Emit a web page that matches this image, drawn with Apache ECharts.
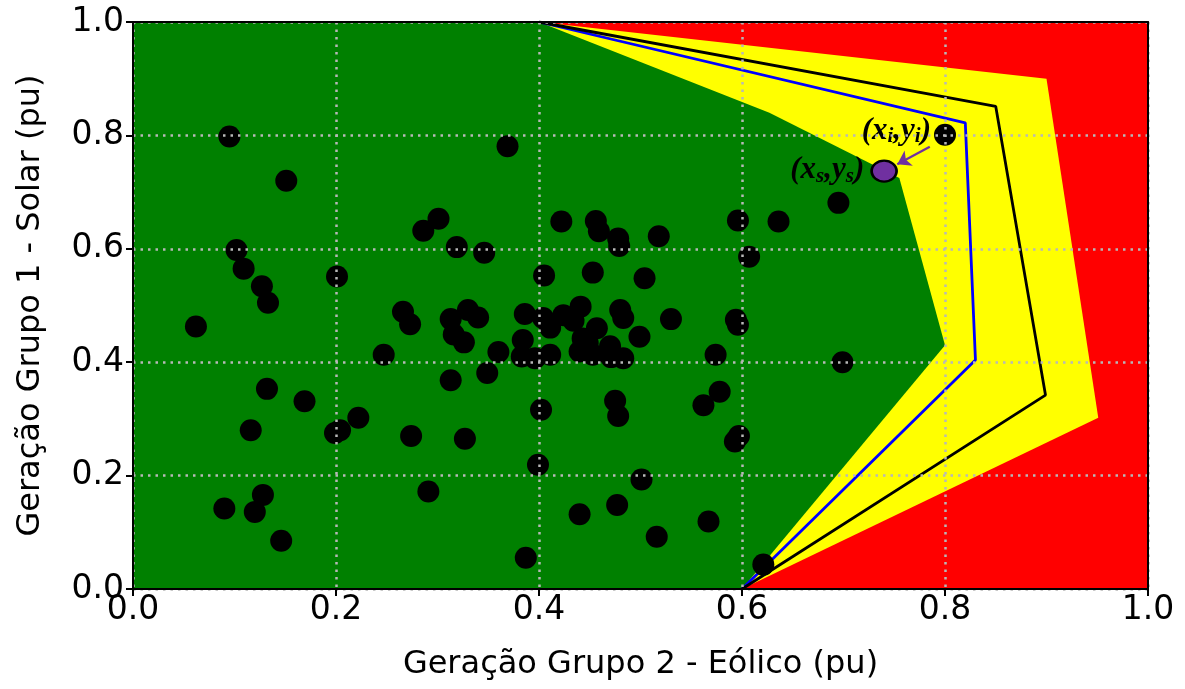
<!DOCTYPE html>
<html><head><meta charset="utf-8">
<script src="https://cdn.jsdelivr.net/npm/echarts@6/dist/echarts.min.js"></script>
<style>html,body{margin:0;padding:0;background:#fff}#c{width:1185px;height:689px}</style>
</head><body><div id="c"></div>
<script>
// ---- data ----
const xTickLabels = ['0.0','0.2','0.4','0.6','0.8','1.0'];
const yTickLabels = ['0.0','0.2','0.4','0.6','0.8','1.0'];
const xTitle = 'Geração Grupo 2 - Eólico (pu)';
const yTitle = 'Geração Grupo 1 - Solar (pu)';

const yellowRegion = [[0,0],[0,1],[0.4,1],[0.9,0.9],[0.951,0.302],[0.6,0]];
const greenRegion  = [[0,0],[0,1],[0.4,1],[0.627,0.84],[0.755,0.725],[0.8,0.43],[0.6,0]];
const blueLimit    = [[0.4,1],[0.82,0.822],[0.83,0.404],[0.6,0]];
const blackLimit   = [[0.4,1],[0.85,0.851],[0.899,0.342],[0.6,0]];

const operatingPoints = [
 [0.095,0.798],[0.151,0.720],[0.369,0.781],[0.301,0.653],[0.286,0.632],[0.319,0.603],
 [0.346,0.593],[0.102,0.598],[0.109,0.565],[0.127,0.534],[0.133,0.505],[0.201,0.551],
 [0.062,0.463],[0.266,0.489],[0.273,0.467],[0.313,0.476],[0.330,0.492],[0.340,0.479],
 [0.316,0.449],[0.326,0.435],[0.360,0.418],[0.247,0.413],[0.349,0.381],[0.313,0.368],
 [0.132,0.353],[0.169,0.331],[0.222,0.302],[0.199,0.275],[0.204,0.280],[0.116,0.280],
 [0.274,0.270],[0.327,0.265],[0.402,0.316],[0.399,0.219],[0.128,0.166],[0.090,0.142],
 [0.120,0.136],[0.146,0.085],[0.291,0.172],[0.387,0.055],[0.440,0.132],[0.422,0.648],
 [0.456,0.649],[0.459,0.631],[0.478,0.618],[0.479,0.605],[0.518,0.622],[0.596,0.650],
 [0.636,0.648],[0.695,0.681],[0.607,0.586],[0.405,0.553],[0.453,0.558],[0.504,0.548],
 [0.386,0.485],[0.404,0.478],[0.411,0.461],[0.424,0.483],[0.441,0.498],[0.434,0.473],
 [0.457,0.460],[0.480,0.492],[0.483,0.478],[0.499,0.445],[0.530,0.476],[0.594,0.475],
 [0.596,0.466],[0.384,0.439],[0.383,0.410],[0.396,0.407],[0.411,0.413],[0.443,0.442],
 [0.440,0.419],[0.453,0.413],[0.470,0.428],[0.483,0.407],[0.574,0.413],[0.699,0.400],
 [0.475,0.332],[0.478,0.305],[0.578,0.348],[0.562,0.324],[0.597,0.270],[0.593,0.260],
 [0.501,0.193],[0.477,0.148],[0.567,0.119],[0.516,0.092],[0.621,0.043],[0.471,0.409],
 [0.448,0.434]
];
const pointI = [[0.8,0.801]];
const pointS = [[0.74,0.737]];
const arrowPath = [[0.785,0.780],[0.753,0.749]];

// ---- chart ----
const FONT = 'DejaVu Sans';
function region(verts, color, z){
  return {
    type:'custom', z:z, silent:true, clip:true,
    data: verts, encode:{x:0, y:1},
    renderItem: function(params, api){
      if (params.dataIndex !== 0) return null;
      return {type:'polygon', shape:{points: verts.map(v => api.coord(v))}, style:{fill:color}};
    }
  };
}
function limitLine(pts, color, z){
  return {type:'line', z:z, data:pts, showSymbol:false, symbol:'none', silent:true,
    lineStyle:{color:color, width:2.8}, animation:false};
}
const labelRich = {
  m:{fontFamily:'Liberation Serif', fontStyle:'italic', fontWeight:'bold', fontSize:31, lineHeight:33, color:'#000'},
  s:{fontFamily:'Liberation Serif', fontStyle:'italic', fontWeight:'bold', fontSize:21, lineHeight:21, verticalAlign:'bottom', color:'#000'}
};
const chart = echarts.init(document.getElementById('c'), null, {renderer:'canvas'});
chart.setOption({
  animation:false,
  backgroundColor:'#fff',
  grid:{left:133, top:22, right:37, bottom:100, show:true, backgroundColor:'#ff0000', borderWidth:0},
  xAxis:[{
    type:'value', min:0, max:1, interval:0.2, position:'bottom', z:10,
    name:xTitle, nameLocation:'middle', nameGap:60,
    nameTextStyle:{fontFamily:FONT, fontSize:32, color:'#000'},
    axisLine:{show:true, onZero:false, lineStyle:{color:'#000', width:2}},
    axisTick:{show:true, length:7, lineStyle:{color:'#000', width:2}},
    axisLabel:{fontFamily:FONT, fontSize:33, color:'#000', margin:5,
      formatter: v => xTickLabels[Math.round(v/0.2)]},
    splitLine:{show:true, lineStyle:{color:'#b8b8b8', width:2.5, type:[2.5,5]}}
  },{
    type:'value', min:0, max:1, position:'top', z:10,
    axisLine:{show:true, onZero:false, lineStyle:{color:'#000', width:2}},
    axisTick:{show:false}, axisLabel:{show:false}, splitLine:{show:false}
  }],
  yAxis:[{
    type:'value', min:0, max:1, interval:0.2, position:'left', z:10,
    name:yTitle, nameLocation:'middle', nameGap:86, nameRotate:90,
    nameTextStyle:{fontFamily:FONT, fontSize:32, color:'#000'},
    axisLine:{show:true, onZero:false, lineStyle:{color:'#000', width:2}},
    axisTick:{show:true, length:7, lineStyle:{color:'#000', width:2}},
    axisLabel:{fontFamily:FONT, fontSize:33, color:'#000', margin:9,
      formatter: v => yTickLabels[Math.round(v/0.2)]},
    splitLine:{show:true, lineStyle:{color:'#b8b8b8', width:2.5, type:[2.5,5]}}
  },{
    type:'value', min:0, max:1, position:'right', z:10,
    axisLine:{show:true, onZero:false, lineStyle:{color:'#000', width:2}},
    axisTick:{show:false}, axisLabel:{show:false}, splitLine:{show:false}
  }],
  series:[
    region(yellowRegion, '#ffff00', 1),
    region(greenRegion, '#008000', 1.5),
    limitLine(blueLimit, '#0000ff', 2),
    limitLine(blackLimit, '#000000', 2),
    {type:'scatter', z:3, data:operatingPoints, symbol:'circle', symbolSize:22, silent:true,
      itemStyle:{color:'#000', opacity:1}},
    {type:'scatter', z:4, data:pointI, symbol:'circle', symbolSize:22, silent:true,
      itemStyle:{color:'#000', opacity:1},
      label:{show:true, position:'left', distance:3, offset:[0,-4],
        formatter:'{m|(x}{s|i}{m|,y}{s|i}{m|)}', rich:labelRich}},
    {type:'scatter', z:4, data:pointS, symbol:'circle', symbolSize:[25,21], silent:true,
      itemStyle:{color:'#7030a0', borderColor:'#000', borderWidth:2.5, opacity:1},
      label:{show:true, position:'left', distance:6, offset:[0,-1],
        formatter:'{m|(x}{s|s}{m|,y}{s|s}{m|)}', rich:labelRich}},
    {type:'lines', coordinateSystem:'cartesian2d', z:5, silent:true,
      symbol:['none','arrow'], symbolSize:13,
      lineStyle:{color:'#7030a0', width:2.2, opacity:1, curveness:0},
      data:[{coords:arrowPath}]}
  ]
});
</script></body></html>
